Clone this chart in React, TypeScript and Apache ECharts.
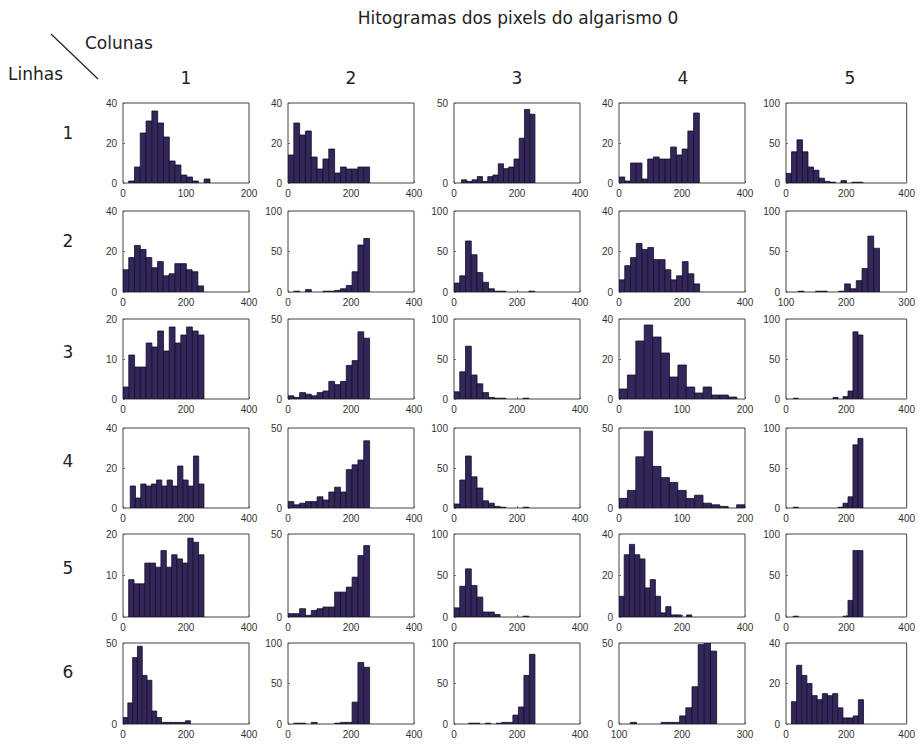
import React, { useEffect, useRef } from 'react';
import * as echarts from 'echarts';

const chartTitle = 'Hitogramas dos pixels do algarismo 0';
const columnLabels = ['1', '2', '3', '4', '5'];
const rowLabels = ['1', '2', '3', '4', '5', '6'];
const cornerColumns = 'Colunas';
const cornerRows = 'Linhas';

// Histogram counts, row by row (row, column)
const h11 = [1, 8, 25, 31, 36, 30, 23, 11, 9, 4, 3, 1, 0, 2];
const h12 = [14, 30, 24, 26, 13, 7, 12, 17, 5, 8, 7, 7, 8, 8];
const h13 = [2, 1, 2, 4, 1, 4, 5, 12, 9, 10, 15, 28, 46, 43];
const h14 = [3, 1, 10, 10, 2, 12, 13, 12, 12, 18, 14, 17, 26, 35];
const h15 = [12, 39, 54, 39, 20, 16, 6, 2, 1, 0, 3, 0, 1, 1];

const h21 = [11, 17, 23, 21, 17, 12, 15, 8, 9, 14, 14, 11, 10, 3];
const h22 = [0, 1, 0, 3, 0, 0, 1, 1, 2, 4, 8, 25, 58, 66];
const h23 = [11, 20, 63, 46, 24, 12, 4, 1, 1, 0, 0, 0, 0, 1];
const h24 = [6, 13, 17, 24, 21, 22, 16, 16, 11, 6, 8, 15, 9, 4];
const h25 = [1, 0, 0, 1, 1, 0, 0, 1, 10, 4, 14, 29, 69, 54];

const h31 = [3, 11, 8, 8, 14, 13, 17, 12, 18, 14, 16, 18, 17, 16];
const h32 = [2, 1, 4, 3, 2, 4, 5, 11, 9, 11, 21, 24, 42, 38];
const h33 = [9, 34, 66, 30, 19, 8, 2, 1, 1, 0, 0, 0, 1, 0];
const h34 = [5, 12, 29, 37, 31, 23, 11, 17, 6, 3, 6, 2, 2, 1];
const h35 = [1, 0, 0, 0, 0, 0, 0, 0, 2, 0, 3, 10, 84, 80];

const h41 = [11, 5, 12, 11, 12, 14, 11, 14, 11, 21, 14, 11, 26, 12];
const h42 = [4, 2, 3, 4, 4, 7, 5, 10, 13, 10, 24, 27, 30, 42];
const h43 = [5, 35, 65, 39, 25, 9, 6, 2, 1, 0, 0, 0, 1, 0];
const h44 = [6, 11, 32, 48, 26, 19, 16, 11, 6, 8, 3, 2, 1, 0, 2];
const h45 = [1, 0, 0, 0, 0, 0, 0, 0, 0, 1, 6, 14, 79, 87];

const h51 = [9, 8, 8, 13, 13, 12, 16, 12, 15, 14, 13, 19, 18, 15];
const h52 = [2, 2, 5, 1, 4, 5, 6, 6, 15, 15, 18, 24, 37, 43];
const h53 = [11, 37, 58, 38, 24, 6, 6, 3, 0, 0, 0, 0, 1, 0];
const h54 = [10, 30, 35, 30, 28, 14, 18, 10, 2, 5, 1, 1, 0, 1];
const h55 = [1, 0, 0, 0, 0, 0, 0, 0, 0, 0, 1, 20, 80, 80];

const h61 = [4, 13, 41, 48, 30, 27, 8, 4, 1, 1, 1, 1, 1, 2];
const h62 = [0, 1, 1, 0, 2, 0, 0, 0, 1, 2, 2, 27, 76, 70];
const h63 = [0, 0, 1, 1, 0, 1, 0, 1, 2, 2, 11, 21, 60, 86];
const h64 = [1, 0, 0, 0, 0, 1, 1, 1, 5, 10, 23, 49, 50, 45];
const h65 = [11, 29, 24, 20, 14, 12, 15, 14, 15, 8, 3, 3, 4, 12];

const counts = [
  h11, h12, h13, h14, h15,
  h21, h22, h23, h24, h25,
  h31, h32, h33, h34, h35,
  h41, h42, h43, h44, h45,
  h51, h52, h53, h54, h55,
  h61, h62, h63, h64, h65,
];

// data range covered by the bins of each histogram [first edge, last edge]
const binRanges = [
  [9, 138], [0, 259], [24, 257], [0, 255], [0, 255],
  [0, 256], [0, 259], [0, 256], [0, 256], [120, 255],
  [0, 257], [0, 259], [0, 256], [0, 187], [24, 255],
  [23, 257], [0, 259], [0, 256], [0, 200], [24, 255],
  [18, 257], [0, 259], [0, 256], [0, 231], [24, 255],
  [0, 214], [0, 259], [12, 257], [118, 255], [18, 257],
];

// x axis [min, max, interval]
const xAxes = [
  [0, 200, 100], [0, 400, 200], [0, 400, 200], [0, 400, 200], [0, 400, 200],
  [0, 400, 200], [0, 400, 200], [0, 400, 200], [0, 400, 200], [100, 300, 100],
  [0, 400, 200], [0, 400, 200], [0, 400, 200], [0, 200, 100], [0, 400, 200],
  [0, 400, 200], [0, 400, 200], [0, 400, 200], [0, 200, 100], [0, 400, 200],
  [0, 400, 200], [0, 400, 200], [0, 400, 200], [0, 400, 200], [0, 400, 200],
  [0, 400, 200], [0, 400, 200], [0, 400, 200], [100, 300, 100], [0, 400, 200],
];

// y axis [max, interval]
const yAxes = [
  [40, 20], [40, 20], [50, 50], [40, 20], [100, 50],
  [40, 20], [100, 50], [100, 50], [40, 20], [100, 50],
  [20, 10], [50, 50], [100, 50], [40, 20], [100, 50],
  [40, 20], [50, 50], [100, 50], [50, 50], [100, 50],
  [20, 10], [50, 50], [100, 50], [40, 20], [100, 50],
  [50, 50], [100, 50], [100, 50], [50, 50], [40, 20],
];

const FONT = '"Liberation Sans", Arial, Helvetica, sans-serif';
const HEAD_FONT = '"DejaVu Sans", Verdana, sans-serif';
const colLefts = [123, 288, 454, 619, 786];
const colWidth = 126;
const rowTops = [103, 211, 319, 428, 534, 643];
const rowHeights = [80, 81, 80, 80, 83, 81];
const colCenters = [186, 351, 517, 683, 850];
const rowLabelY = [133, 241, 352, 461, 568, 672];

export default function App() {
  const ref = useRef<HTMLDivElement>(null);

  useEffect(() => {
    if (!ref.current) return;
    const chart = echarts.init(ref.current, null, { renderer: 'svg' });

    const grids: any[] = [];
    const xAxis: any[] = [];
    const yAxis: any[] = [];
    const series: any[] = [];

    counts.forEach((vals, i) => {
      const r = Math.floor(i / 5);
      const c = i % 5;
      grids.push({
        left: colLefts[c],
        top: rowTops[r],
        width: colWidth,
        height: rowHeights[r],
        show: true,
        borderColor: '#444',
        borderWidth: 1,
        backgroundColor: '#fff',
      });
      const [xmin, xmax, xint] = xAxes[i];
      xAxis.push({
        gridIndex: i,
        type: 'value',
        min: xmin,
        max: xmax,
        interval: xint,
        axisLine: { show: false },
        axisTick: { show: true, inside: true, length: 2, lineStyle: { color: '#666' } },
        splitLine: { show: false },
        axisLabel: { fontSize: 10, color: '#333', margin: 5, fontFamily: FONT },
      });
      const [ymax, yint] = yAxes[i];
      yAxis.push({
        gridIndex: i,
        type: 'value',
        min: 0,
        max: ymax,
        interval: yint,
        axisLine: { show: false },
        axisTick: { show: true, inside: true, length: 2, lineStyle: { color: '#666' } },
        splitLine: { show: false },
        axisLabel: { fontSize: 10, color: '#333', margin: 6, fontFamily: FONT },
      });
      const [b0, b1] = binRanges[i];
      const w = (b1 - b0) / vals.length;
      const data = vals.map((v, k) => [b0 + k * w, b0 + (k + 1) * w, v]);
      series.push({
        type: 'custom',
        xAxisIndex: i,
        yAxisIndex: i,
        data,
        encode: { x: [0, 1], y: 2 },
        clip: true,
        renderItem: (params: any, api: any) => {
          const v = api.value(2);
          if (!v) return null;
          const p0 = api.coord([api.value(0), 0]);
          const p1 = api.coord([api.value(1), v]);
          return {
            type: 'rect',
            shape: { x: p0[0], y: p1[1], width: p1[0] - p0[0], height: p0[1] - p1[1] },
            style: { fill: '#33265a', stroke: '#150f26', lineWidth: 0.8 },
          };
        },
      });
    });

    const graphic: any[] = [
      {
        type: 'text',
        x: 518,
        y: 18,
        style: {
          text: chartTitle,
          font: `17px ${HEAD_FONT}`,
          fill: '#222',
          textAlign: 'center',
          textVerticalAlign: 'middle',
        },
      },
      {
        type: 'text',
        x: 85,
        y: 43,
        style: { text: cornerColumns, font: `17px ${HEAD_FONT}`, fill: '#222', textAlign: 'left', textVerticalAlign: 'middle' },
      },
      {
        type: 'text',
        x: 8,
        y: 74,
        style: { text: cornerRows, font: `17px ${HEAD_FONT}`, fill: '#222', textAlign: 'left', textVerticalAlign: 'middle' },
      },
      {
        type: 'line',
        shape: { x1: 51, y1: 34, x2: 98, y2: 79 },
        style: { stroke: '#222', lineWidth: 1.2 },
      },
    ];
    columnLabels.forEach((t, c) => {
      graphic.push({
        type: 'text',
        x: colCenters[c],
        y: 78,
        style: { text: t, font: `17px ${HEAD_FONT}`, fill: '#222', textAlign: 'center', textVerticalAlign: 'middle' },
      });
    });
    rowLabels.forEach((t, r) => {
      graphic.push({
        type: 'text',
        x: 68,
        y: rowLabelY[r],
        style: { text: t, font: `17px ${HEAD_FONT}`, fill: '#222', textAlign: 'center', textVerticalAlign: 'middle' },
      });
    });

    chart.setOption({
      animation: false,
      backgroundColor: '#fff',
      grid: grids,
      xAxis,
      yAxis,
      series,
      graphic,
    });

    return () => chart.dispose();
  }, []);

  return (
    <div
      ref={ref}
      style={{ position: 'absolute', left: 0, top: 0, width: 918, height: 744, background: '#fff' }}
    />
  );
}
